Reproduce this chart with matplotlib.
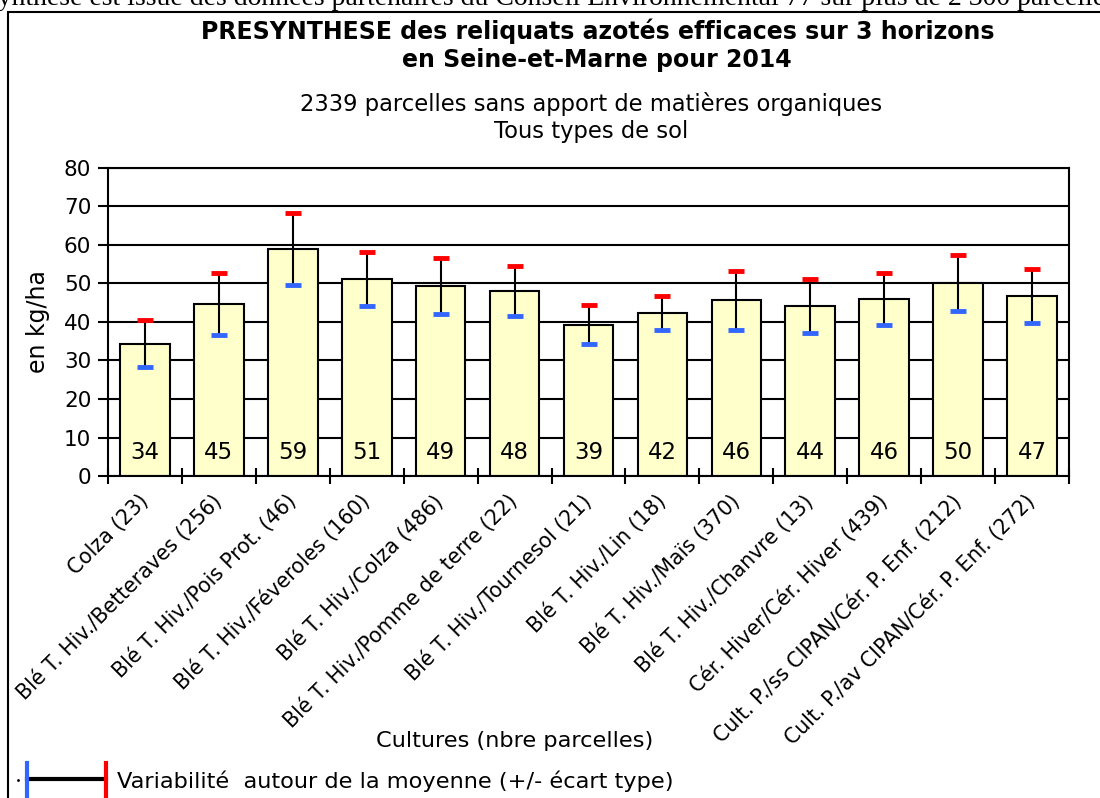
import matplotlib.pyplot as plt
from matplotlib.lines import Line2D
from matplotlib.patches import Rectangle

# Data
cultures = ["Colza (23)", "Blé T. Hiv./Betteraves (256)", "Blé T. Hiv./Pois Prot. (46)",
            "Blé T. Hiv./Féveroles (160)", "Blé T. Hiv./Colza (486)",
            "Blé T. Hiv./Pomme de terre (22)", "Blé T. Hiv./Tournesol (21)",
            "Blé T. Hiv./Lin (18)", "Blé T. Hiv./Maïs (370)", "Blé T. Hiv./Chanvre (13)",
            "Cér. Hiver/Cér. Hiver (439)", "Cult. P./ss CIPAN/Cér. P. Enf. (212)",
            "Cult. P./av CIPAN/Cér. P. Enf. (272)"]
moyennes = [34.4, 44.6, 59.0, 51.2, 49.4, 48.1, 39.3, 42.3, 45.6, 44.2, 45.9, 50.2, 46.8]
ecarts = [6.1, 8.0, 9.3, 7.1, 7.3, 6.5, 5.0, 4.4, 7.6, 7.0, 6.8, 7.3, 7.0]

plt.rcParams['font.family'] = ['DejaVu Sans']

fig = plt.figure(figsize=(11, 7.98), dpi=100)

# outer frame of the original document
fig.patches.append(Rectangle((8 / 1100, -0.05), 1.2, 1 - 12 / 798 + 0.05,
                             transform=fig.transFigure, fill=False,
                             edgecolor='black', linewidth=1.5))

# cut text line at the very top
fig.text(-0.012, 1 - 5 / 798, "synthèse est issue des données partenaires du Conseil "
         "Environnemental 77 sur plus de 2 300 parcelles",
         family='Liberation Serif', fontsize=20, va='baseline', ha='left')

ax = fig.add_axes([0.0982, 0.4035, 0.8736, 0.386])
x = list(range(len(cultures)))

ax.bar(x, moyennes, width=0.67, color='#FFFFCC', edgecolor='black', linewidth=1.5, zorder=2)
ax.vlines(x, [m - e for m, e in zip(moyennes, ecarts)],
          [m + e for m, e in zip(moyennes, ecarts)], color='black', linewidth=1.5, zorder=3)
ax.plot(x, [m + e for m, e in zip(moyennes, ecarts)], ls='none', marker='_',
        ms=11, mew=3.5, color='#FF0000', zorder=4)
ax.plot(x, [m - e for m, e in zip(moyennes, ecarts)], ls='none', marker='_',
        ms=11, mew=3.5, color='#3366FF', zorder=4)

for i, m in zip(x, moyennes):
    ax.text(i, 6, f"{m:.0f}", ha='center', va='center', fontsize=16.5, zorder=5)

ax.set_xlim(-0.5, len(cultures) - 0.5)
ax.set_ylim(0, 80)
ax.set_yticks(range(0, 81, 10))
ax.yaxis.grid(True, color='black', linewidth=1.5, zorder=0)
ax.set_axisbelow(True)
for s in ax.spines.values():
    s.set_linewidth(1.5)

ax.tick_params(axis='y', labelsize=15.5, width=1.5, length=7, direction='out', pad=5)
ax.set_xticks(x)
ax.set_xticklabels(cultures, rotation=45, ha='right', va='center',
                   rotation_mode='anchor', fontsize=14.8)
ax.tick_params(axis='x', which='major', length=0, pad=16)
ax.set_xticks([i - 0.5 for i in range(len(cultures) + 1)], minor=True)
ax.tick_params(axis='x', which='minor', length=12, width=1.5, direction='inout')

ax.set_ylabel("en kg/ha", fontsize=17, labelpad=10)

fig.text(0.543, 0.961, "PRESYNTHESE des reliquats azotés efficaces sur 3 horizons",
         ha='center', va='center', fontsize=17, fontweight='bold')
fig.text(0.543, 0.925, "en Seine-et-Marne pour 2014",
         ha='center', va='center', fontsize=17, fontweight='bold')
fig.text(0.537, 0.870, "2339 parcelles sans apport de matières organiques",
         ha='center', va='center', fontsize=16.3)
fig.text(0.537, 0.835, "Tous types de sol", ha='center', va='center', fontsize=16.3)

fig.text(515 / 1100, 1 - 741 / 798, "Cultures (nbre parcelles)",
         ha='center', va='center', fontsize=16.2)

# legend key for the error bars
fig.add_artist(Line2D([18 / 1100], [1 - 780 / 798], marker='.', ms=2, color='black',
                      transform=fig.transFigure))
fig.add_artist(Line2D([27 / 1100, 106 / 1100], [1 - 779 / 798] * 2, color='black',
                      linewidth=3, transform=fig.transFigure))
fig.add_artist(Line2D([27 / 1100] * 2, [1 - 763 / 798, 0], color='#3366FF',
                      linewidth=3, transform=fig.transFigure))
fig.add_artist(Line2D([106 / 1100] * 2, [1 - 763 / 798, 0], color='#FF0000',
                      linewidth=3, transform=fig.transFigure))
fig.text(117 / 1100, 1 - 781 / 798, "Variabilité  autour de la moyenne (+/- écart type)",
         ha='left', va='center', fontsize=16.2)

fig.savefig("out.png", dpi=100)
